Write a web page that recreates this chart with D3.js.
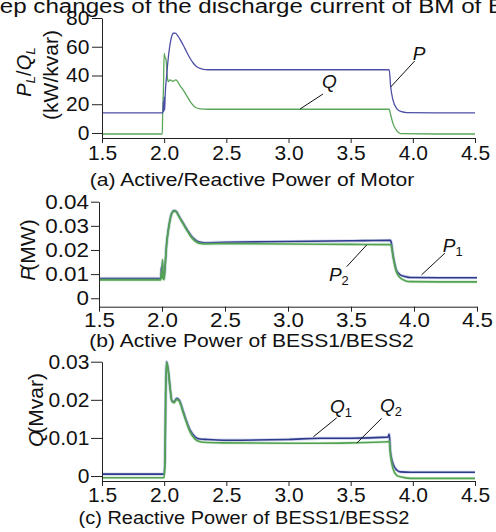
<!DOCTYPE html>
<html><head><meta charset="utf-8">
<script src="https://cdn.jsdelivr.net/npm/d3@7/dist/d3.min.js"></script>
<style>
body{margin:0;background:#fff}
svg{display:block}
text{font-family:"Liberation Sans",Arial,sans-serif;fill:#111}
</style>
</head><body>
<svg id="chart" width="496" height="532"></svg>
<script>
// ---------------- data ----------------
const xTicks = [1.5, 2.0, 2.5, 3.0, 3.5, 4.0, 4.5];
const xTickLabels = ["1.5", "2.0", "2.5", "3.0", "3.5", "4.0", "4.5"];
const yTicksA = [0, 20, 40, 60, 80];
const yTickLabelsA = ["0", "20", "40", "60", "80"];
const yTicksB = [0, 0.01, 0.02, 0.03, 0.04];
const yTickLabelsB = ["0", "0.01", "0.02", "0.03", "0.04"];
const yTicksC = [0, 0.01, 0.02, 0.03];
const yTickLabelsC = ["0", "0.01", "0.02", "0.03"];

// (a) motor active / reactive power (kW / kvar)
const tP = [1.5, 1.99, 1.994, 1.997, 2.0, 2.004, 2.008, 2.02, 2.034, 2.053, 2.074, 2.09, 2.11, 2.13, 2.154, 2.18, 2.208, 2.235, 2.262, 2.29, 2.315, 2.35, 2.6, 3.0, 3.4, 3.81, 3.822, 3.84, 3.87, 3.91, 3.95, 4.2, 4.5];
const motorP = [14, 14, 22, 15, 25, 16, 26, 40, 53, 64.5, 69.4, 69.5, 67.5, 64.8, 61, 56.5, 52, 48.5, 46.1, 44.9, 44.3, 44, 44, 44, 44, 44, 32, 23, 17, 14.8, 14.2, 14, 14];
const tQ = [1.5, 1.985, 1.988, 1.994, 2.0, 2.006, 2.015, 2.025, 2.033, 2.047, 2.07, 2.095, 2.127, 2.17, 2.21, 2.25, 2.29, 2.35, 3.0, 3.81, 3.822, 3.84, 3.87, 3.9, 4.2, 4.5];
const motorQ = [-0.7, -0.7, 14, 30, 55.4, 53, 51, 39, 35.7, 37, 36, 37, 33, 27.6, 21.8, 17.9, 16.8, 16.5, 16.5, 16.5, 12.5, 6.7, 1.6, -0.5, -0.7, -0.7];

// (b) BESS active power (MW)
const tB = [1.5, 1.99, 1.996, 2.0, 2.004, 2.008, 2.016, 2.024, 2.037, 2.05, 2.063, 2.077, 2.095, 2.113, 2.13, 2.15, 2.17, 2.19, 2.21, 2.23, 2.25, 2.27, 2.29, 2.34, 2.5, 3.0, 3.5, 3.81, 3.817, 3.836, 3.86, 3.89, 3.93, 3.97, 4.2, 4.5];
const bessP1 = [0.0082, 0.0082, 0.013, 0.0088, 0.015, 0.009, 0.0083, 0.013, 0.0228, 0.0283, 0.0324, 0.0352, 0.0363, 0.036, 0.0345, 0.0327, 0.031, 0.0292, 0.0276, 0.026, 0.0248, 0.024, 0.0234, 0.023, 0.0232, 0.0235, 0.0238, 0.024, 0.0236, 0.0172, 0.0117, 0.0097, 0.009, 0.0086, 0.0085, 0.0085];
const bessP2 = [0.0076, 0.0076, 0.011, 0.0082, 0.016, 0.0088, 0.0077, 0.0128, 0.0226, 0.0281, 0.0322, 0.035, 0.0361, 0.0358, 0.0343, 0.0324, 0.0306, 0.0288, 0.0271, 0.0255, 0.0243, 0.0234, 0.0228, 0.0225, 0.0226, 0.0225, 0.0223, 0.0222, 0.022, 0.0165, 0.011, 0.0085, 0.0073, 0.0069, 0.0068, 0.0068];

// (c) BESS reactive power (Mvar)
const tC = [1.5, 1.99, 1.999, 2.007, 2.012, 2.02, 2.033, 2.047, 2.061, 2.079, 2.101, 2.122, 2.154, 2.181, 2.208, 2.248, 2.288, 2.35, 2.5, 3.0, 3.25, 3.5, 3.8, 3.81, 3.82, 3.84, 3.87, 3.9, 3.98, 4.5];
const bessQ1 = [0.0005, 0.0005, 0.0006, 0.0046, 0.0213, 0.030, 0.0278, 0.0234, 0.0199, 0.0195, 0.0204, 0.0199, 0.0169, 0.0143, 0.0121, 0.0103, 0.0097, 0.0096, 0.0094, 0.0096, 0.0099, 0.0099, 0.0102, 0.011, 0.0064, 0.0033, 0.0016, 0.0011, 0.001, 0.001];
const bessQ2 = [-0.00045, -0.00045, -0.0004, 0.0046, 0.0213, 0.0298, 0.0276, 0.0232, 0.0197, 0.0192, 0.0201, 0.0196, 0.0165, 0.0139, 0.0116, 0.0097, 0.009, 0.0088, 0.0087, 0.0086, 0.0086, 0.0087, 0.009, 0.0092, 0.0055, 0.002, 0.0002, -0.0002, -0.0006, -0.0006];

// ---------------- drawing ----------------
const svg = d3.select("#chart");
const BLUE_A = "#4d4fa6", GREEN_A = "#5aa65a";
const BLUE = "#2e3a8c", GREEN = "#52a252";

// clipped caption from the figure above
svg.append("text")
  .attr("transform", "translate(-23,13) scale(1.15,1)")
  .attr("font-size", 21)
  .text("Step changes of the discharge current of BM of BESS");

function styledText(g, parts, fs) {
  parts.forEach(p => {
    const ts = g.append("tspan").text(p.s);
    if (p.i) ts.attr("font-style", "italic");
    if (p.sub) ts.attr("font-size", fs * 0.68).attr("dy", fs * 0.22);
    if (p.up) ts.attr("dy", -fs * 0.22);
    if (p.dx) ts.attr("dx", p.dx);
  });
}

function panel(cfg) {
  const x = d3.scaleLinear().domain([1.5, 4.5]).range(cfg.xr);
  const y = d3.scaleLinear().domain(cfg.yd).range(cfg.yr);
  const line = d3.line().x(d => x(d[0])).y(d => y(d[1])).curve(d3.curveMonotoneX);

  cfg.series.forEach(s => {
    const pts = s.t.map((t, i) => [t, s.v[i]]);
    if (s.halo) {
      svg.append("path").datum(pts).attr("fill", "none")
        .attr("stroke", s.halo).attr("stroke-width", 3.2).attr("stroke-opacity", 0.35)
        .attr("stroke-linejoin", "round").attr("d", line);
    }
    svg.append("path").datum(pts).attr("fill", "none")
      .attr("stroke", s.color).attr("stroke-width", s.w)
      .attr("stroke-linejoin", "round").attr("d", line);
  });

  const gx = svg.append("g").attr("transform", `translate(0,${cfg.yr[0]})`)
    .call(d3.axisBottom(x).tickValues(xTicks).tickFormat((d, i) => xTickLabels[i])
      .tickSizeInner(5).tickSizeOuter(0).tickPadding(cfg.xpad));
  const gy = svg.append("g").attr("transform", `translate(${cfg.xr[0]},0)`)
    .call(d3.axisLeft(y).tickValues(cfg.yt).tickFormat((d, i) => cfg.ytl[i])
      .tickSizeInner(cfg.ytick).tickSizeOuter(0).tickPadding(cfg.ypad));
  [gx, gy].forEach(g => {
    g.selectAll("path,line").attr("stroke", "#222").attr("stroke-width", 1);
    g.selectAll("text").attr("font-size", cfg.tfs).attr("fill", "#111")
      .style("font-family", '"Liberation Sans",Arial,sans-serif');
  });
  gy.selectAll("text").attr("transform", `scale(${cfg.tsx},1)`);
  gx.selectAll("text").attr("transform", `scale(${cfg.tsx},1)`);

  // rotated y labels
  cfg.ylabels.forEach(l => {
    const t = svg.append("text")
      .attr("transform", `translate(${l.cx},${l.cy}) rotate(-90)`)
      .attr("text-anchor", "middle").attr("dy", "0.35em")
      .attr("font-size", l.fs);
    styledText(t, l.parts, l.fs);
  });

  // annotations with leader lines
  cfg.ann.forEach(a => {
    const x0 = x(a.t), y0 = y(a.v), x1 = x0 + a.dx, y1 = y0 + a.dy;
    svg.append("line").attr("x1", x0).attr("y1", y0).attr("x2", x1).attr("y2", y1)
      .attr("stroke", "#111").attr("stroke-width", 1);
    const t = svg.append("text").attr("x", x1 + a.lx).attr("y", y1 + a.ly)
      .attr("font-size", 19).attr("text-anchor", a.anchor || "start");
    styledText(t, [{s: a.label, i: true}].concat(a.sub ? [{s: a.sub, sub: true}] : []), 19);
  });

  // subtitle
  svg.append("text")
    .attr("transform", `translate(${cfg.sub.cx},${cfg.sub.y}) scale(${cfg.sub.sx},1)`)
    .attr("text-anchor", "middle").attr("font-size", cfg.sub.fs)
    .text(cfg.sub.text);
}

panel({
  xr: [102, 475], yd: [-3.5, 80], yr: [138, 18],
  yt: yTicksA, ytl: yTickLabelsA, ytick: 10, ypad: 2, xpad: 3, tfs: 20, tsx: 1.05,
  series: [
    {t: tQ, v: motorQ, color: GREEN_A, w: 1.3},
    {t: tP, v: motorP, color: BLUE_A, w: 1.3}
  ],
  ylabels: [
    {cx: 24, cy: 72, fs: 20, parts: [{s: "P", i: true}, {s: "L", i: true, sub: true}, {s: "/", up: true}, {s: "Q", i: true}, {s: "L", i: true, sub: true}]},
    {cx: 51, cy: 75, fs: 21, parts: [{s: "(kW/kvar)"}]}
  ],
  ann: [
    {label: "P", t: 3.822, v: 32, dx: 24, dy: -26, lx: -2, ly: -1},
    {label: "Q", t: 3.093, v: 16.7, dx: 23, dy: -15, lx: -1, ly: -6}
  ],
  sub: {text: "(a) Active/Reactive Power of Motor", cx: 252, y: 186, fs: 18.5, sx: 1.14}
});

panel({
  xr: [99, 477], yd: [-0.0035, 0.04], yr: [306.7, 201.7],
  yt: yTicksB, ytl: yTickLabelsB, ytick: 8, ypad: 1, xpad: 1, tfs: 20, tsx: 1.12,
  series: [
    {t: tB, v: bessP1, color: BLUE, w: 1.6, halo: "#8090c8"},
    {t: tB, v: bessP2, color: GREEN, w: 1.6, halo: "#9fd09f"}
  ],
  ylabels: [
    {cx: 28, cy: 250, fs: 21, parts: [{s: "P", i: true}, {s: "(MW)", dx: -4}]}
  ],
  ann: [
    {label: "P", sub: "1", t: 4.06, v: 0.0097, dx: 23.3, dy: -21.7, lx: -2, ly: -1.3},
    {label: "P", sub: "2", t: 3.625, v: 0.0221, dx: -20, dy: 21.7, lx: 2, ly: 14, anchor: "end"}
  ],
  sub: {text: "(b) Active Power of BESS1/BESS2", cx: 251.5, y: 346.5, fs: 18.5, sx: 1.14}
});

panel({
  xr: [102, 475], yd: [-0.0013, 0.03], yr: [481, 361.7],
  yt: yTicksC, ytl: yTickLabelsC, ytick: 11, ypad: 1, xpad: 2, tfs: 20, tsx: 1.05,
  series: [
    {t: tC, v: bessQ1, color: BLUE, w: 1.6, halo: "#8090c8"},
    {t: tC, v: bessQ2, color: GREEN, w: 1.6, halo: "#9fd09f"}
  ],
  ylabels: [
    {cx: 36, cy: 410, fs: 21, parts: [{s: "Q", i: true}, {s: "(Mvar)", dx: -3}]}
  ],
  ann: [
    {label: "Q", sub: "1", t: 3.2, v: 0.0103, dx: 23.4, dy: -19, lx: -6.7, ly: -5},
    {label: "Q", sub: "2", t: 3.548, v: 0.0086, dx: 25, dy: -25, lx: -1.7, ly: -6}
  ],
  sub: {text: "(c) Reactive Power of BESS1/BESS2", cx: 244, y: 523.5, fs: 18.5, sx: 1.08}
});
</script>
</body></html>
